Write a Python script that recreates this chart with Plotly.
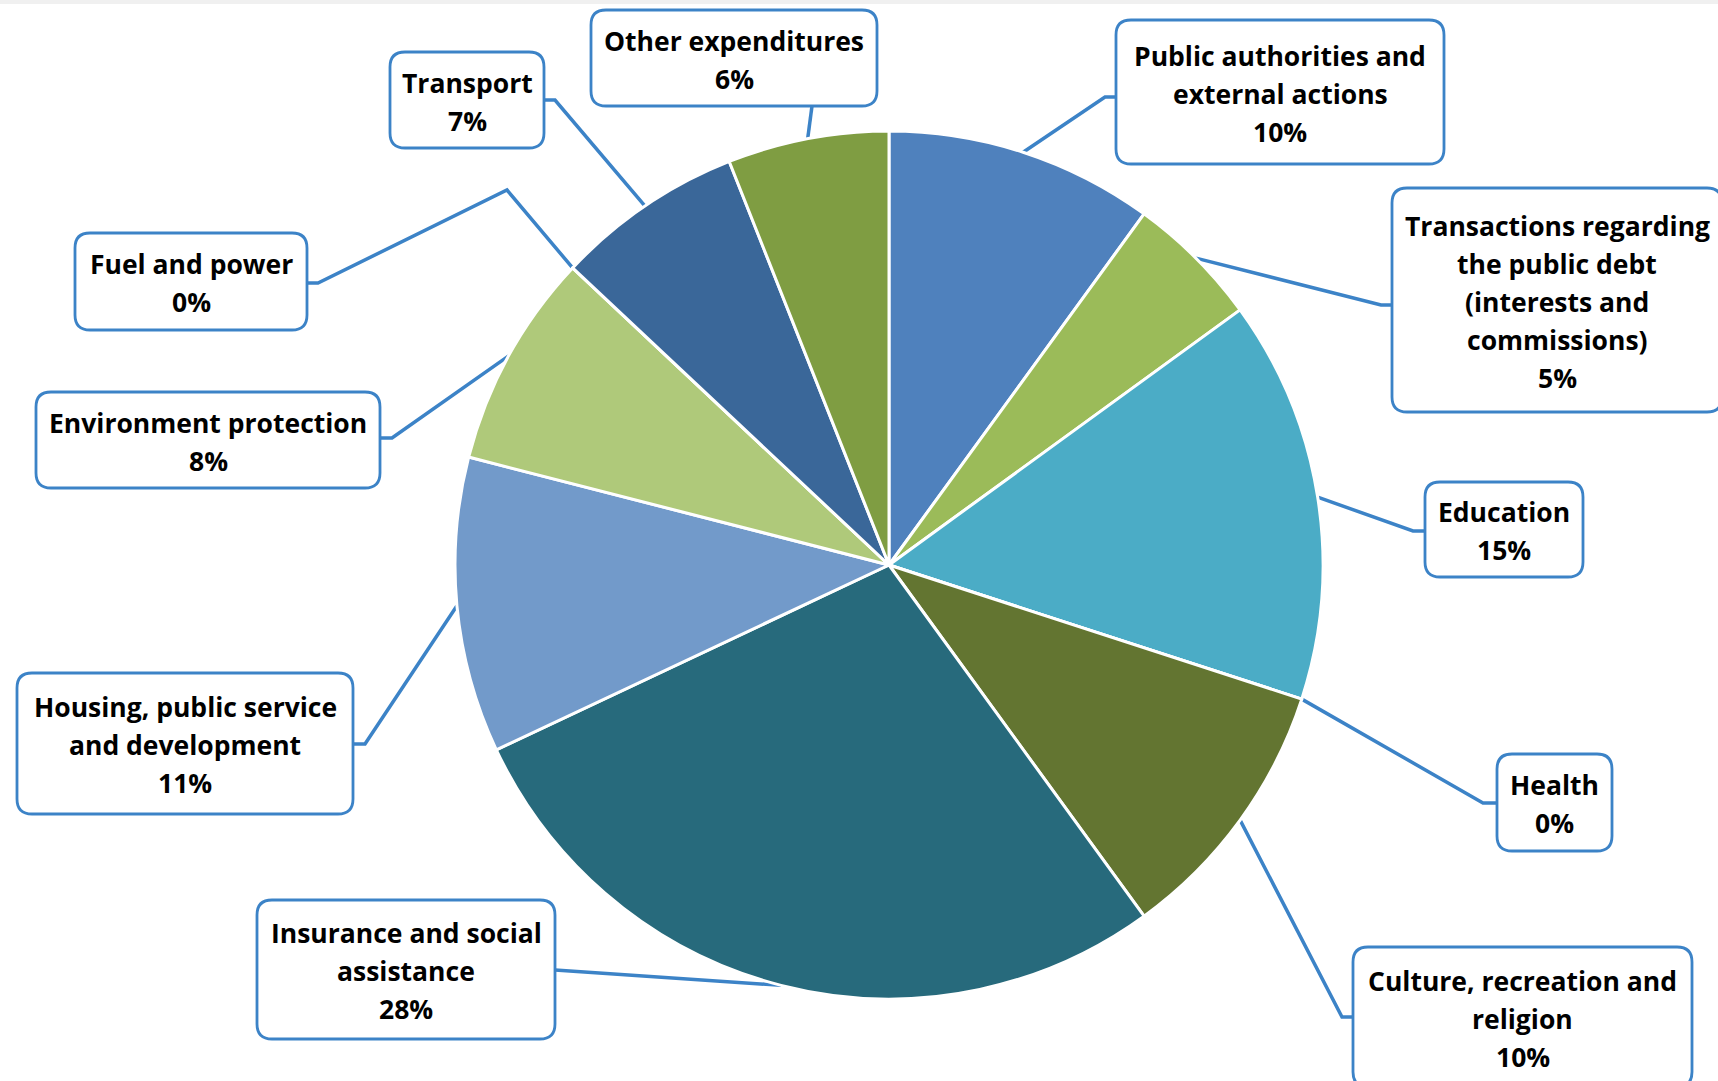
import math
import plotly.graph_objects as go

W, H = 1718, 1081

# ---- data -------------------------------------------------------------
categories = [
    "Public authorities and external actions",
    "Transactions regarding the public debt (interests and commissions)",
    "Education",
    "Health",
    "Culture, recreation and religion",
    "Insurance and social assistance",
    "Housing, public service and development",
    "Environment protection",
    "Fuel and power",
    "Transport",
    "Other expenditures",
]
# wrapped label text as shown in the callouts
label_lines = [
    ["Public authorities and", "external actions"],
    ["Transactions regarding", "the public debt", "(interests and", "commissions)"],
    ["Education"],
    ["Health"],
    ["Culture, recreation and", "religion"],
    ["Insurance and social", "assistance"],
    ["Housing, public service", "and development"],
    ["Environment protection"],
    ["Fuel and power"],
    ["Transport"],
    ["Other expenditures"],
]
shares = [10, 5, 15, 0, 10, 28, 11, 8, 0, 7, 6]

slice_colors = [
    "#4F81BD", "#9BBB59", "#4BACC6", "#2C4D75", "#637531", "#276A7C",
    "#729ACA", "#AFC97A", "#4F81BD", "#3A6799", "#7F9D42",
]

# ---- layout (pixel coordinates, y downwards) ------------------------------
CX, CY, R = 889, 565, 434
BLUE = "#3C83C7"
FONT = dict(family="Open Sans", size=26.5, color="#000000", weight="bold")
LINE_H = 38
TEXT_DY = 1.5

# callout boxes: (x0, y0, x1, y1), bend points, attach point on the box
callouts = [
    ((1116, 20, 1444, 164), [(1105, 97)], (1116, 97)),
    ((1392, 188, 1722, 412), [(1381, 305)], (1392, 305)),
    ((1425, 482, 1583, 577), [(1413, 531)], (1425, 531)),
    ((1497, 754, 1612, 851), [(1483, 803)], (1497, 803)),
    ((1353, 947, 1692, 1087), [(1342, 1017)], (1353, 1017)),
    ((257, 900, 555, 1039), [(563, 970)], (555, 970)),
    ((17, 673, 353, 814), [(365, 744)], (353, 744)),
    ((36, 392, 380, 488), [(392, 438)], (380, 438)),
    ((75, 233, 307, 330), [(507, 190), (318, 283)], (307, 283)),
    ((390, 52, 544, 148), [(555, 100)], (544, 100)),
    ((591, 10, 877, 106), [], (812, 106)),
]


def rounded_rect(x0, y0, x1, y1, r=15):
    return (
        f"M {x0 + r},{y0} L {x1 - r},{y0} Q {x1},{y0} {x1},{y0 + r} "
        f"L {x1},{y1 - r} Q {x1},{y1} {x1 - r},{y1} "
        f"L {x0 + r},{y1} Q {x0},{y1} {x0},{y1 - r} "
        f"L {x0},{y0 + r} Q {x0},{y0} {x0 + r},{y0} Z"
    )


fig = go.Figure()

# leader lines: from the slice's mid-angle on the rim to its callout box
total = sum(shares)
cum = 0.0
for i, v in enumerate(shares):
    frac = (cum + v / 2.0) / total
    cum += v
    ang = 2 * math.pi * frac
    sx = CX + R * math.sin(ang)
    sy = CY - R * math.cos(ang)
    box, bends, attach = callouts[i]
    pts = [(sx, sy)] + bends + [attach]
    fig.add_trace(go.Scatter(
        x=[p[0] for p in pts], y=[p[1] for p in pts],
        mode="lines", line=dict(color=BLUE, width=3.5),
        hoverinfo="skip", showlegend=False,
    ))

fig.add_trace(go.Pie(
    labels=categories, values=shares,
    sort=False, direction="clockwise", rotation=0,
    marker=dict(colors=slice_colors, line=dict(color="#FFFFFF", width=3)),
    textinfo="none", showlegend=False,
    domain=dict(x=[(CX - R) / W, (CX + R) / W], y=[1 - (CY + R) / H, 1 - (CY - R) / H]),
))

shapes = [dict(type="rect", xref="x", yref="y", x0=0, x1=W, y0=0, y1=4,
               fillcolor="#F0F0F0", line=dict(width=0), layer="below")]
annotations = []
for i, v in enumerate(shares):
    (x0, y0, x1, y1), _, _ = callouts[i]
    shapes.append(dict(type="path", xref="x", yref="y", path=rounded_rect(x0, y0, x1, y1),
                       fillcolor="#FFFFFF", line=dict(color=BLUE, width=2.8), layer="above"))
    lines = label_lines[i] + [f"{v}%"]
    xc = (x0 + x1) / 2
    yc = (y0 + y1) / 2 + TEXT_DY
    n = len(lines)
    for k, t in enumerate(lines):
        annotations.append(dict(
            x=xc, y=yc + (k - (n - 1) / 2) * LINE_H, xref="x", yref="y",
            text=t, showarrow=False, xanchor="center", yanchor="middle", font=FONT,
        ))

fig.update_layout(
    width=W, height=H,
    margin=dict(l=0, r=0, t=0, b=0),
    paper_bgcolor="#FFFFFF", plot_bgcolor="#FFFFFF",
    xaxis=dict(range=[0, W], visible=False, domain=[0, 1], fixedrange=True),
    yaxis=dict(range=[H, 0], visible=False, domain=[0, 1], fixedrange=True),
    shapes=shapes, annotations=annotations, showlegend=False,
)

fig.write_html("out.html")
